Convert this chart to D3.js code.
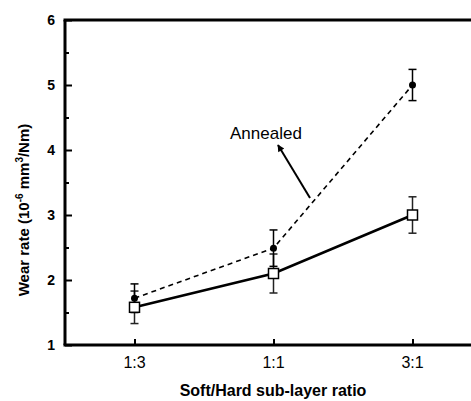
<!DOCTYPE html>
<html>
<head>
<meta charset="utf-8">
<script src="https://cdn.jsdelivr.net/npm/d3@7"></script>
<style>
  html, body { margin: 0; padding: 0; background: #fff; }
  svg { display: block; }
  text { font-family: "Liberation Sans", Arial, sans-serif; fill: #000; }
</style>
</head>
<body>
<svg id="chart" width="471" height="401"></svg>
<script>
// Wear rate vs soft/hard sub-layer ratio
const categories = ["1:3", "1:1", "3:1"];
const annealedValues = [1.72, 2.49, 5.0];
const annealedErrors = [0.22, 0.28, 0.24];
const asDepositedValues = [1.58, 2.1, 3.0];
const asDepositedErrors = [0.25, 0.3, 0.28];
const yTicks = [1, 2, 3, 4, 5, 6];
const annotationText = "Annealed";

const svg = d3.select("#chart");
const margin = { left: 65, top: 20, bottom: 345 };

const x = d3.scaleLinear().domain([0.5, 3.5]).range([margin.left, margin.left + 3 * 139]);
const y = d3.scaleLinear().domain([1, 6]).range([margin.bottom, margin.top]);

const idx = categories.map((c, i) => i + 1);

// frame: left, bottom and top lines
svg.append("line").attr("x1", x(0.5)).attr("x2", x(0.5)).attr("y1", y(6)).attr("y2", y(1))
  .attr("stroke", "#000").attr("stroke-width", 3);
svg.append("line").attr("x1", x(0.5) - 1.5).attr("x2", x(3.5)).attr("y1", y(1)).attr("y2", y(1))
  .attr("stroke", "#000").attr("stroke-width", 3);
svg.append("line").attr("x1", x(0.5) - 1.5).attr("x2", x(3.5)).attr("y1", y(6)).attr("y2", y(6))
  .attr("stroke", "#000").attr("stroke-width", 3);

// y axis, ticks pointing inward
const yAxis = d3.axisRight(y).tickValues(yTicks).tickSize(7).tickFormat("");
const gy = svg.append("g").attr("transform", `translate(${x(0.5)},0)`).call(yAxis);
gy.select(".domain").remove();
gy.selectAll(".tick line").attr("stroke-width", 2);

const yMinor = d3.axisRight(y).tickValues([1.5, 2.5, 3.5, 4.5, 5.5]).tickSize(4).tickFormat("");
const gym = svg.append("g").attr("transform", `translate(${x(0.5)},0)`).call(yMinor);
gym.select(".domain").remove();
gym.selectAll(".tick line").attr("stroke-width", 2);

svg.append("g").selectAll("text").data(yTicks).join("text")
  .attr("x", x(0.5) - 10).attr("y", d => y(d)).attr("dy", "0.36em")
  .attr("text-anchor", "end").attr("font-size", 14).attr("font-weight", "bold")
  .text(d => d);

// x axis, ticks pointing inward
const xAxis = d3.axisTop(x).tickValues(idx).tickSize(6).tickFormat("");
const gx = svg.append("g").attr("transform", `translate(0,${y(1)})`).call(xAxis);
gx.select(".domain").remove();
gx.selectAll(".tick line").attr("stroke-width", 2);

svg.append("g").selectAll("text").data(idx).join("text")
  .attr("x", d => x(d)).attr("y", y(1) + 23)
  .attr("text-anchor", "middle").attr("font-size", 16)
  .text(d => categories[d - 1]);

// axis titles
svg.append("text").attr("x", 273).attr("y", 396).attr("text-anchor", "middle")
  .attr("font-size", 16).attr("font-weight", "bold").text("Soft/Hard sub-layer ratio");

const yt = svg.append("text").attr("transform", `translate(29,210) rotate(-90)`)
  .attr("text-anchor", "middle").attr("font-size", 15).attr("font-weight", "bold");
yt.append("tspan").text("Wear rate (10");
yt.append("tspan").attr("dy", -6).attr("font-size", 10).text("-6");
yt.append("tspan").attr("dy", 6).text(" mm");
yt.append("tspan").attr("dy", -6).attr("font-size", 10).text("3");
yt.append("tspan").attr("dy", 6).text("/Nm)");

// series lines
const line = d3.line().x(d => x(d[0])).y(d => y(d[1]));
const annealedPts = idx.map((d, i) => [d, annealedValues[i]]);
const depositedPts = idx.map((d, i) => [d, asDepositedValues[i]]);

svg.append("path").datum(annealedPts).attr("d", line).attr("fill", "none")
  .attr("stroke", "#000").attr("stroke-width", 1.6).attr("stroke-dasharray", "5,4");
svg.append("path").datum(depositedPts).attr("d", line).attr("fill", "none")
  .attr("stroke", "#000").attr("stroke-width", 2.6);

// error bars
function errorBars(vals, errs, color) {
  const g = svg.append("g").attr("stroke", color).attr("stroke-width", 1.5);
  idx.forEach((d, i) => {
    const cx = x(d), y0 = y(vals[i] - errs[i]), y1 = y(vals[i] + errs[i]);
    g.append("line").attr("x1", cx).attr("x2", cx).attr("y1", y0).attr("y2", y1);
    g.append("line").attr("x1", cx - 4).attr("x2", cx + 4).attr("y1", y0).attr("y2", y0);
    g.append("line").attr("x1", cx - 4).attr("x2", cx + 4).attr("y1", y1).attr("y2", y1);
  });
}
errorBars(asDepositedValues, asDepositedErrors, "#222");
errorBars(annealedValues, annealedErrors, "#000");

// markers
svg.append("g").selectAll("rect").data(depositedPts).join("rect")
  .attr("x", d => x(d[0]) - 5).attr("y", d => y(d[1]) - 5)
  .attr("width", 10).attr("height", 10)
  .attr("fill", "#fff").attr("stroke", "#000").attr("stroke-width", 1.5);
svg.append("g").selectAll("circle").data(annealedPts).join("circle")
  .attr("cx", d => x(d[0])).attr("cy", d => y(d[1])).attr("r", 3.5).attr("fill", "#000");

// annotation with arrow
svg.append("defs").append("marker").attr("id", "arrowhead")
  .attr("viewBox", "0 0 10 10").attr("refX", 9).attr("refY", 5)
  .attr("markerWidth", 5).attr("markerHeight", 3.5).attr("orient", "auto")
  .append("path").attr("d", "M0,0 L10,5 L0,10 z").attr("fill", "#000");

svg.append("text").attr("x", 230).attr("y", 139).attr("font-size", 17).text(annotationText);
svg.append("line").attr("x1", 310).attr("y1", 198).attr("x2", 278).attr("y2", 145)
  .attr("stroke", "#000").attr("stroke-width", 2).attr("marker-end", "url(#arrowhead)");
</script>
</body>
</html>
